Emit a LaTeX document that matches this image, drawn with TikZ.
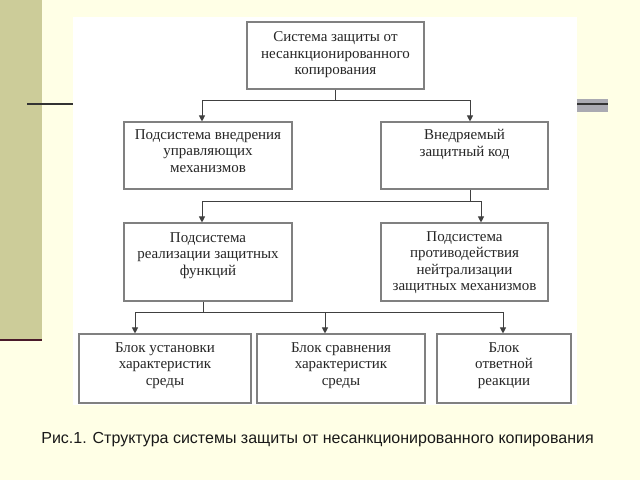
\documentclass[tikz,border=0pt]{standalone}
\usepackage{fontspec}
\setmainfont{Liberation Serif}
\newfontfamily\capfont{Liberation Sans}
\usetikzlibrary{arrows.meta,calc}
\definecolor{bgyel}{HTML}{FFFFE6}
\definecolor{olivebar}{HTML}{CCCC99}
\definecolor{maroonline}{HTML}{4A1A2A}
\definecolor{darkline}{HTML}{333333}
\definecolor{graybar}{HTML}{AAAAB2}
\definecolor{boxgray}{HTML}{808080}
\definecolor{textgray}{HTML}{262626}
\definecolor{conn}{HTML}{404040}
\tikzset{
  box/.style={draw=boxgray, line width=1.1pt, inner sep=0pt, rectangle},
  txt/.style={font=\fontsize{15}{16.5}\selectfont, align=center, text=textgray, inner sep=0pt, anchor=north},
  link/.style={draw=conn, line width=0.9pt},
  arr/.style={link, -{Triangle[length=6pt,width=6pt]}}
}
\begin{document}
\begin{tikzpicture}[x=1pt,y=-1pt]
\useasboundingbox (0,0) rectangle (640,480);
\fill[bgyel] (0,0) rectangle (640,480);
\fill[olivebar] (0,0) rectangle (42,340);
\draw[maroonline, line width=2.5pt] (0,340) -- (42,340);
\draw[darkline, line width=1.5pt] (27,104) -- (73,104);
\fill[graybar] (577,99) rectangle (608,112);
\draw[darkline, line width=1.2pt] (577,104) -- (608,104);
\fill[white] (73,17) rectangle (577,405);

% boxes
\node[box, minimum width=177, minimum height=67] (top) at (335.5,55.5) {};
\node[box, minimum width=168, minimum height=67] (ml) at (208,155.5) {};
\node[box, minimum width=167, minimum height=67] (mr) at (464.5,155.5) {};
\node[box, minimum width=168, minimum height=78] (ll) at (208,262) {};
\node[box, minimum width=167, minimum height=78] (lr) at (464.5,262) {};
\node[box, minimum width=172, minimum height=69] (b1) at (165,368.5) {};
\node[box, minimum width=168, minimum height=69] (b2) at (341,368.5) {};
\node[box, minimum width=134, minimum height=69] (b3) at (504,368.5) {};

% texts
\node[txt] (topt) at ($(top.north)+(0,10)$) {Система защиты от\\несанкционированного\\копирования};
\node[txt] (mlt) at ($(ml.north)+(0,8)$) {Подсистема внедрения\\управляющих\\механизмов};
\node[txt] (mrt) at ($(mr.north)+(0,8)$) {Внедряемый\\защитный код};
\node[txt] (llt) at ($(ll.north)+(0,10)$) {Подсистема\\реализации защитных\\функций};
\node[txt] (lrt) at ($(lr.north)+(0,9)$) {Подсистема\\противодействия\\нейтрализации\\защитных механизмов};
\node[txt] (b1t) at ($(b1.north)+(0,9)$) {Блок установки\\характеристик\\среды};
\node[txt] (b2t) at ($(b2.north)+(0,9)$) {Блок сравнения\\характеристик\\среды};
\node[txt] (b3t) at ($(b3.north)+(0,9)$) {Блок\\ответной\\реакции};

% connectors
\coordinate (j1) at ($(top.south)+(0,11)$);
\draw[link] (top.south) -- (j1);
\draw[arr] (j1) -| ([xshift=-6pt]ml.north);
\draw[arr] (j1) -| ([xshift=5.5pt]mr.north);

\coordinate (j2) at ($([xshift=5.5pt]mr.south)+(0,12)$);
\draw[link] ([xshift=5.5pt]mr.south) -- (j2);
\draw[arr] (j2) -| ([xshift=-6pt]ll.north);
\draw[arr] (j2) -| ([xshift=16.5pt]lr.north);

\coordinate (j3) at ($([xshift=-5pt]ll.south)+(0,11)$);
\draw[link] ([xshift=-5pt]ll.south) -- (j3);
\draw[arr] (j3) -| ([xshift=-30pt]b1.north);
\draw[arr] (j3) -| ([xshift=-16pt]b2.north);
\draw[arr] (j3) -| ([xshift=-1pt]b3.north);

% caption
\node[font=\capfont\fontsize{16}{19}\selectfont, text=black!90, anchor=base, inner sep=0pt] (cap) at (317.5,443) {Рис.1. Структура системы защиты от несанкционированного копирования};
\end{tikzpicture}
\end{document}
